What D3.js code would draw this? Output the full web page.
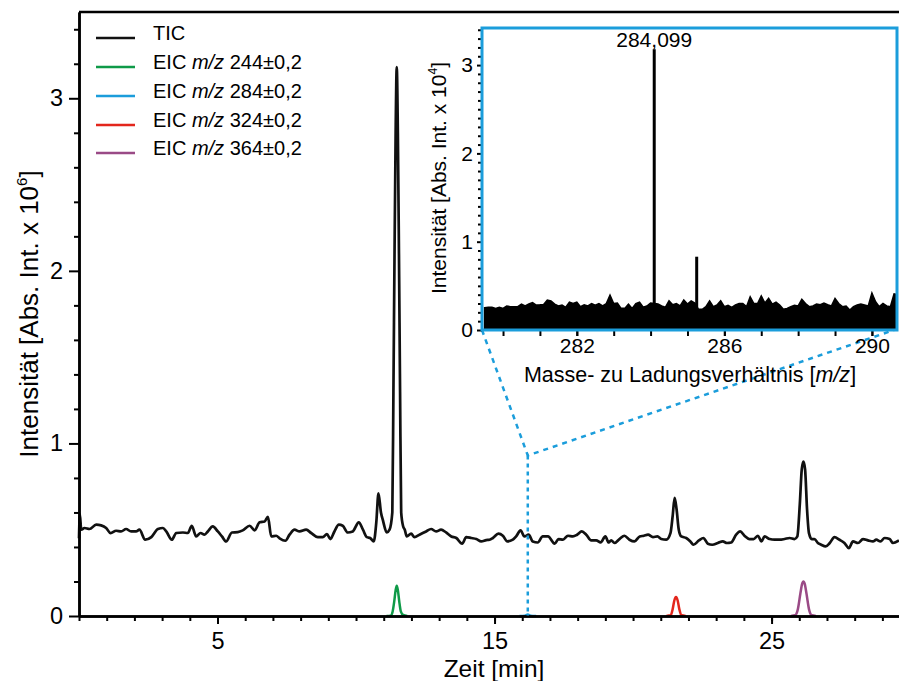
<!DOCTYPE html>
<html><head><meta charset="utf-8">
<script src="https://cdn.jsdelivr.net/npm/d3@7"></script>
<style>
body{margin:0;background:#fff}
svg{display:block}
text{font-family:"Liberation Sans",Arial,Helvetica,sans-serif;fill:#000}
</style>
</head><body>
<svg id="c" width="899" height="681"></svg>
<script>
// ---------- DATA ----------
// Total ion chromatogram (time [min], intensity x10^6)
const ticTime = [0.00,0.03,0.08,0.20,0.38,0.62,0.80,0.98,1.14,1.34,1.52,1.70,1.88,2.06,2.18,2.39,2.61,2.85,3.03,3.15,3.35,3.51,3.75,3.93,4.07,4.23,4.39,4.53,4.65,4.83,5.01,5.16,5.31,5.52,5.73,5.91,6.16,6.34,6.52,6.70,6.82,6.94,7.12,7.24,7.45,7.60,7.78,7.96,8.20,8.38,8.62,8.80,8.95,9.07,9.22,9.38,9.52,9.70,9.88,10.10,10.25,10.39,10.51,10.64,10.73,10.81,10.90,10.97,11.11,11.21,11.31,11.35,11.39,11.43,11.47,11.51,11.55,11.59,11.63,11.70,11.76,11.83,11.99,12.11,12.29,12.53,12.71,12.89,13.07,13.25,13.44,13.62,13.83,13.98,14.16,14.34,14.52,14.70,14.82,14.94,15.14,15.30,15.46,15.66,15.78,15.94,16.08,16.23,16.38,16.56,16.74,16.93,17.17,17.31,17.47,17.65,17.83,17.98,18.15,18.31,18.49,18.67,18.83,19.00,19.12,19.21,19.33,19.51,19.69,19.87,20.05,20.24,20.39,20.54,20.72,20.88,21.02,21.20,21.35,21.43,21.50,21.57,21.65,21.74,21.92,22.07,22.18,22.38,22.54,22.70,22.86,23.06,23.24,23.39,23.54,23.72,23.87,24.02,24.20,24.35,24.51,24.63,24.75,24.93,25.11,25.29,25.47,25.65,25.83,25.93,26.02,26.09,26.15,26.21,26.28,26.35,26.45,26.55,26.67,26.79,26.95,27.10,27.27,27.45,27.63,27.79,27.94,28.12,28.30,28.48,28.66,28.78,28.93,29.08,29.26,29.38,29.60];
const ticValue = [0.45,0.59,0.50,0.51,0.504,0.529,0.525,0.51,0.48,0.494,0.49,0.504,0.49,0.49,0.50,0.442,0.457,0.504,0.51,0.49,0.442,0.481,0.484,0.481,0.523,0.461,0.481,0.471,0.49,0.519,0.49,0.461,0.432,0.484,0.486,0.496,0.523,0.496,0.543,0.548,0.574,0.461,0.465,0.45,0.436,0.471,0.50,0.49,0.50,0.481,0.457,0.457,0.475,0.446,0.49,0.529,0.523,0.484,0.49,0.543,0.50,0.457,0.452,0.432,0.539,0.71,0.60,0.555,0.484,0.50,0.60,1.30,2.10,2.80,3.18,2.80,2.10,1.30,0.60,0.52,0.50,0.461,0.477,0.457,0.471,0.49,0.504,0.49,0.50,0.484,0.461,0.452,0.419,0.457,0.452,0.446,0.432,0.44,0.442,0.452,0.477,0.465,0.432,0.442,0.461,0.496,0.461,0.471,0.432,0.426,0.461,0.461,0.419,0.446,0.442,0.465,0.461,0.471,0.49,0.471,0.438,0.438,0.426,0.461,0.426,0.438,0.423,0.446,0.465,0.442,0.432,0.461,0.465,0.471,0.457,0.461,0.446,0.442,0.48,0.58,0.684,0.62,0.50,0.461,0.452,0.432,0.413,0.438,0.452,0.419,0.413,0.423,0.432,0.423,0.426,0.471,0.49,0.465,0.446,0.446,0.465,0.432,0.461,0.446,0.442,0.442,0.446,0.452,0.446,0.461,0.65,0.85,0.895,0.85,0.62,0.48,0.446,0.446,0.423,0.413,0.403,0.423,0.457,0.442,0.423,0.393,0.432,0.423,0.446,0.438,0.432,0.442,0.432,0.452,0.446,0.423,0.438];

// Extracted ion chromatograms
const eic244Time = [11.10,11.25,11.32,11.38,11.43,11.47,11.51,11.56,11.62,11.70,11.85];
const eic244Value = [0,0.002,0.025,0.085,0.150,0.175,0.150,0.085,0.025,0.006,0];
const eic284Time = [15.9,16.10,16.20,16.30,16.5];
const eic284Value = [0,0.002,0.008,0.002,0];
const eic324Time = [21.20,21.36,21.43,21.49,21.55,21.61,21.67,21.75,21.90];
const eic324Value = [0,0.004,0.04,0.09,0.11,0.09,0.04,0.004,0];
const eic364Time = [25.70,25.85,25.95,26.04,26.10,26.15,26.20,26.26,26.35,26.45,26.60];
const eic364Value = [0,0.004,0.04,0.13,0.185,0.20,0.185,0.13,0.04,0.004,0];

// Legend
const legendLabels = ["TIC","244","284","324","364"];
const legendColors = ["#111111","#0f9a48","#1b9ddb","#e3261c","#9a4a86"];

// Main axes ticks
const xMajorTicks = [5,15,25];
const xMinorTicks = [0,1,2,3,4,5,6,7,8,9,10,11,12,13,14,15,16,17,18,19,20,21,22,23,24,25,26,27,28,29];
const yMajorTicks = [0,1,2,3];
const yMinorTicks = [0.2,0.4,0.6,0.8,1.2,1.4,1.6,1.8,2.2,2.4,2.6,2.8,3.2,3.4];

// Mass spectrum (inset): noise envelope, m/z and intensity x10^4
const noiseMz = [279.5,279.6,279.7,279.8,279.9,280.0,280.1,280.2,280.3,280.4,280.5,280.6,280.7,280.8,280.9,281.0,281.1,281.2,281.3,281.4,281.5,281.6,281.7,281.8,281.9,282.0,282.1,282.2,282.3,282.4,282.5,282.6,282.7,282.8,282.9,283.0,283.1,283.2,283.3,283.4,283.5,283.6,283.7,283.8,283.9,284.0,284.1,284.2,284.3,284.4,284.5,284.6,284.7,284.8,284.9,285.0,285.1,285.2,285.3,285.4,285.5,285.6,285.7,285.8,285.9,286.0,286.1,286.2,286.3,286.4,286.5,286.6,286.7,286.8,286.9,287.0,287.1,287.2,287.3,287.4,287.5,287.6,287.7,287.8,287.9,288.0,288.1,288.2,288.3,288.4,288.5,288.6,288.7,288.8,288.9,289.0,289.1,289.2,289.3,289.4,289.5,289.6,289.7,289.8,289.9,290.0,290.1,290.2,290.3,290.4,290.5,290.6,290.7];
const noiseInt = [0.253,0.257,0.257,0.245,0.257,0.245,0.272,0.264,0.264,0.264,0.294,0.272,0.294,0.31,0.283,0.286,0.29,0.34,0.33,0.294,0.272,0.283,0.257,0.316,0.30,0.316,0.264,0.286,0.272,0.30,0.28,0.30,0.272,0.30,0.396,0.30,0.306,0.245,0.245,0.294,0.245,0.30,0.316,0.257,0.272,0.306,0.30,0.294,0.272,0.257,0.33,0.286,0.30,0.272,0.34,0.294,0.33,0.306,0.234,0.234,0.264,0.33,0.264,0.283,0.33,0.264,0.28,0.257,0.283,0.30,0.30,0.264,0.377,0.30,0.30,0.385,0.306,0.358,0.294,0.316,0.283,0.234,0.245,0.264,0.28,0.272,0.347,0.30,0.264,0.272,0.294,0.286,0.306,0.286,0.272,0.358,0.30,0.264,0.272,0.226,0.264,0.283,0.294,0.283,0.272,0.42,0.32,0.264,0.30,0.272,0.264,0.41,0.40];
const peakMz = [284.099,285.25];
const peakInt = [3.18,0.83];
const peakLabel = "284,099";
const insetXTicks = [280,281,282,283,284,285,286,287,288,289,290];
const insetXLabels = [282,286,290];
const insetYMajor = [0,1,2,3];
const insetYMinor = [0.1,0.2,0.3,0.4,0.5,0.6,0.7,0.8,0.9,1.1,1.2,1.3,1.4,1.5,1.6,1.7,1.8,1.9,2.1,2.2,2.3,2.4,2.5,2.6,2.7,2.8,2.9,3.1,3.2,3.3,3.4];

// Zoom marker: retention time of the shown spectrum
const markerTime = 16.2;
const markerValue = 0.93;

// ---------- DRAW ----------
const svg = d3.select("#c");
const x = d3.scaleLinear().domain([0, 29.6]).range([79, 899]);
const y = d3.scaleLinear().domain([0, 3.5]).range([616, 12]);

// top frame line
svg.append("line").attr("x1", x(0)).attr("x2", 899).attr("y1", y(3.5)).attr("y2", y(3.5))
  .attr("stroke", "#000").attr("stroke-width", 2.5);

const line = d3.line().x(d => x(d[0])).y(d => y(d[1])).curve(d3.curveMonotoneX);

// EICs
const eics = [
  [eic244Time, eic244Value, legendColors[1]],
  [eic284Time, eic284Value, legendColors[2]],
  [eic324Time, eic324Value, legendColors[3]],
  [eic364Time, eic364Value, legendColors[4]]
];
eics.forEach(([t, v, c]) => {
  svg.append("path").datum(t.map((d, i) => [d, v[i]]))
    .attr("d", line).attr("fill", "none").attr("stroke", c).attr("stroke-width", 2.5)
    .attr("stroke-linejoin", "round");
});

// TIC
svg.append("path").datum(ticTime.map((d, i) => [d, ticValue[i]]))
  .attr("d", line).attr("fill", "none").attr("stroke", legendColors[0])
  .attr("stroke-width", 2.7).attr("stroke-linejoin", "round");

// main axes
const gx = svg.append("g").attr("transform", `translate(0,${y(0)})`);
gx.call(d3.axisBottom(x).tickValues(xMinorTicks).tickSize(5).tickSizeOuter(0).tickFormat(""));
const gx2 = svg.append("g").attr("transform", `translate(0,${y(0)})`);
gx2.call(d3.axisBottom(x).tickValues(xMajorTicks).tickSize(8).tickSizeOuter(0).tickPadding(8).tickFormat(d3.format("d")));
const gy = svg.append("g").attr("transform", `translate(${x(0)},0)`);
gy.call(d3.axisLeft(y).tickValues(yMinorTicks).tickSize(5).tickSizeOuter(0).tickFormat(""));
const gy2 = svg.append("g").attr("transform", `translate(${x(0)},0)`);
gy2.call(d3.axisLeft(y).tickValues(yMajorTicks).tickSize(10).tickSizeOuter(0).tickPadding(6).tickFormat(d3.format("d")));
[gx, gx2, gy, gy2].forEach(g => {
  g.selectAll(".domain").attr("stroke", "#000").attr("stroke-width", 2.5);
  g.selectAll(".tick line").attr("stroke", "#000").attr("stroke-width", 2);
  g.selectAll(".tick text").attr("font-size", 23.5).attr("fill", "#000")
    .style("font-family", '"Liberation Sans",Arial,sans-serif');
});

// axis titles
svg.append("text").attr("x", 494).attr("y", 677).attr("text-anchor", "middle")
  .attr("font-size", 24.5).text("Zeit [min]");
const yt = svg.append("text").attr("transform", "translate(38,314) rotate(-90)")
  .attr("text-anchor", "middle").attr("font-size", 26);
yt.append("tspan").text("Intensität [Abs. Int. x 10");
yt.append("tspan").attr("font-size", 15).attr("dy", -11).text("6");
yt.append("tspan").attr("dy", 11).text("]");

// legend
const legY = [38, 67, 96, 125, 153];
legendLabels.forEach((lab, i) => {
  svg.append("line").attr("x1", 96).attr("x2", 135).attr("y1", legY[i]).attr("y2", legY[i])
    .attr("stroke", legendColors[i]).attr("stroke-width", 2.5);
  const t = svg.append("text").attr("x", 153).attr("y", legY[i] + 1.5).attr("font-size", 20);
  if (i === 0) t.text(lab);
  else {
    t.append("tspan").text("EIC ");
    t.append("tspan").attr("font-style", "italic").text("m/z");
    t.append("tspan").text(" " + lab + "±0,2");
  }
});

// ---------- INSET ----------
const ix = d3.scaleLinear().domain([279.43, 290.68]).range([482, 897]);
const iy = d3.scaleLinear().domain([0, 3.42]).range([330, 28]);
const blue = legendColors[2];

// dashed connectors
const mx = x(markerTime), my = y(markerValue);
svg.append("path").attr("d", `M${ix(279.43)},${iy(0)}L${mx},${my}L${ix(290.68) - 3},${iy(0)}`)
  .attr("fill", "none").attr("stroke", blue).attr("stroke-width", 2.5).attr("stroke-dasharray", "5,5");
svg.append("line").attr("x1", mx).attr("x2", mx).attr("y1", my).attr("y2", y(0))
  .attr("stroke", blue).attr("stroke-width", 2.5).attr("stroke-dasharray", "4,4");

svg.append("rect").attr("x", ix.range()[0]).attr("y", iy.range()[1])
  .attr("width", ix.range()[1] - ix.range()[0]).attr("height", iy.range()[0] - iy.range()[1])
  .attr("fill", "#fff");

svg.append("clipPath").attr("id", "ic").append("rect")
  .attr("x", ix.range()[0]).attr("y", iy.range()[1])
  .attr("width", ix.range()[1] - ix.range()[0]).attr("height", iy.range()[0] - iy.range()[1]);
const ig = svg.append("g").attr("clip-path", "url(#ic)");

const area = d3.area().x(d => ix(d[0])).y0(iy(0)).y1(d => iy(d[1])).curve(d3.curveLinear);
ig.append("path").datum(noiseMz.map((d, i) => [d, noiseInt[i]]))
  .attr("d", area).attr("fill", "#000").attr("stroke", "#000").attr("stroke-width", 1.5);
ig.selectAll(".pk").data(peakMz).enter().append("line")
  .attr("x1", d => ix(d)).attr("x2", d => ix(d))
  .attr("y1", iy(0)).attr("y2", (d, i) => iy(peakInt[i]))
  .attr("stroke", "#000").attr("stroke-width", 3);

svg.append("text").attr("x", ix(peakMz[0])).attr("y", 47).attr("text-anchor", "middle")
  .attr("font-size", 21).text(peakLabel);

// inset axes
const igx = svg.append("g").attr("transform", `translate(0,${iy(0)})`);
igx.call(d3.axisBottom(ix).tickValues(insetXTicks).tickSize(6).tickSizeOuter(0).tickFormat(""));
const igx2 = svg.append("g").attr("transform", `translate(0,${iy(0)})`);
igx2.call(d3.axisBottom(ix).tickValues(insetXLabels).tickSize(6).tickSizeOuter(0).tickPadding(2).tickFormat(d3.format("d")));
const igy = svg.append("g").attr("transform", `translate(${ix.range()[0]},0)`);
igy.call(d3.axisLeft(iy).tickValues(insetYMinor).tickSize(4).tickSizeOuter(0).tickFormat(""));
const igy2 = svg.append("g").attr("transform", `translate(${ix.range()[0]},0)`);
igy2.call(d3.axisLeft(iy).tickValues(insetYMajor).tickSize(5).tickSizeOuter(0).tickPadding(4).tickFormat(d3.format("d")));
[igx, igx2, igy, igy2].forEach(g => {
  g.selectAll(".domain").remove();
  g.selectAll(".tick line").attr("stroke", "#000").attr("stroke-width", 2);
  g.selectAll(".tick text").attr("font-size", 21).attr("fill", "#000")
    .style("font-family", '"Liberation Sans",Arial,sans-serif');
});

// inset frame
svg.append("rect").attr("x", ix.range()[0]).attr("y", iy.range()[1])
  .attr("width", ix.range()[1] - ix.range()[0]).attr("height", iy.range()[0] - iy.range()[1])
  .attr("fill", "none").attr("stroke", blue).attr("stroke-width", 3);

// inset titles
const ixt = svg.append("text").attr("x", 690).attr("y", 382).attr("text-anchor", "middle").attr("font-size", 21.5);
ixt.append("tspan").text("Masse- zu Ladungsverhältnis [");
ixt.append("tspan").attr("font-style", "italic").text("m/z");
ixt.append("tspan").text("]");
const iyt = svg.append("text").attr("transform", "translate(446,178) rotate(-90)")
  .attr("text-anchor", "middle").attr("font-size", 21);
iyt.append("tspan").text("Intensität [Abs. Int. x 10");
iyt.append("tspan").attr("font-size", 12).attr("dy", -9).text("4");
iyt.append("tspan").attr("dy", 9).text("]");
</script>
</body></html>
